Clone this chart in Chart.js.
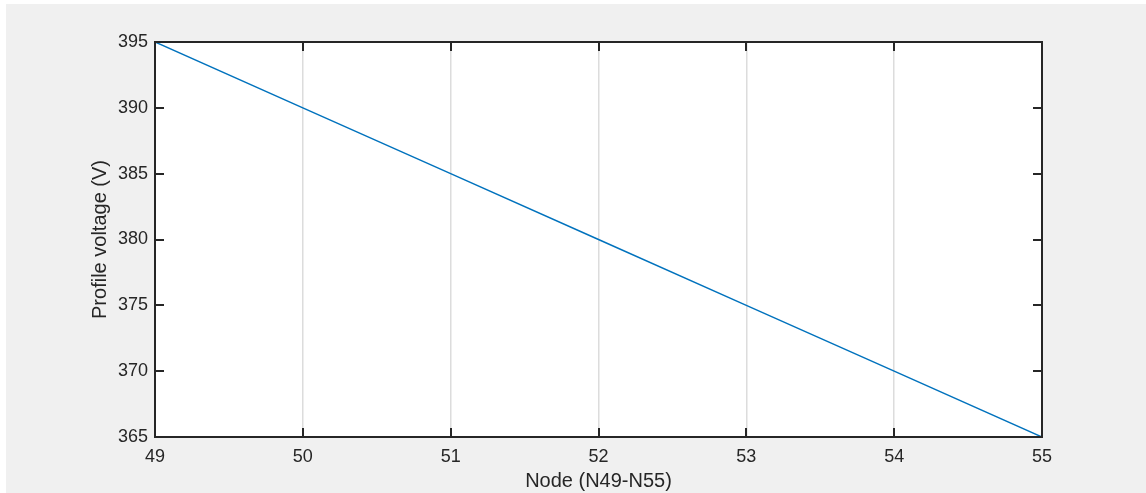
<!DOCTYPE html>
<html>
<head>
<meta charset="utf-8">
<script src="https://cdn.jsdelivr.net/npm/chart.js@4/dist/chart.umd.min.js"></script>
<style>
  html, body { margin: 0; padding: 0; background: #ffffff; }
  #wrap { width: 1146px; height: 493px; position: relative; }
</style>
</head>
<body>
<div id="wrap"><canvas id="c" width="1146" height="493"></canvas></div>
<script>
// ---- data ----
const nodes = [49, 50, 51, 52, 53, 54, 55];
const voltages = [395, 390, 385, 380, 375, 370, 365];
const xTicks = [49, 50, 51, 52, 53, 54, 55];
const yTicks = [365, 370, 375, 380, 385, 390, 395];
const xTitle = 'Node (N49-N55)';
const yTitle = 'Profile voltage (V)';

const FONT = '"Liberation Sans", Arial, Helvetica, sans-serif';
const AXIS_COLOR = '#262626';

const matlabFrame = {
  id: 'matlabFrame',
  beforeDraw(chart) {
    const ctx = chart.ctx, a = chart.chartArea;
    ctx.save();
    ctx.fillStyle = '#f0f0f0';
    ctx.fillRect(6, 4, chart.width - 6, chart.height - 4);
    ctx.fillStyle = '#ffffff';
    ctx.fillRect(a.left, a.top, a.right - a.left, a.bottom - a.top);
    ctx.restore();
  },
  afterDatasetsDraw(chart) {
    const ctx = chart.ctx, a = chart.chartArea;
    const xs = chart.scales.x, ys = chart.scales.y;
    const tl = 9;
    ctx.save();
    ctx.strokeStyle = AXIS_COLOR;
    ctx.lineWidth = 2;
    ctx.beginPath();
    xTicks.forEach(v => {
      const px = Math.round(xs.getPixelForValue(v));
      ctx.moveTo(px, a.bottom); ctx.lineTo(px, a.bottom - tl);
      ctx.moveTo(px, a.top); ctx.lineTo(px, a.top + tl);
    });
    yTicks.forEach(v => {
      const py = Math.round(ys.getPixelForValue(v));
      ctx.moveTo(a.left, py); ctx.lineTo(a.left + tl, py);
      ctx.moveTo(a.right, py); ctx.lineTo(a.right - tl, py);
    });
    ctx.stroke();
    ctx.strokeRect(a.left, a.top, a.right - a.left, a.bottom - a.top);
    ctx.restore();
  }
};

new Chart(document.getElementById('c'), {
  type: 'line',
  data: {
    datasets: [{
      data: nodes.map((n, i) => ({ x: n, y: voltages[i] })),
      borderColor: '#0072BD',
      borderWidth: 1.5,
      pointRadius: 0,
      fill: false,
      tension: 0
    }]
  },
  options: {
    responsive: false,
    animation: false,
    events: [],
    layout: { padding: { left: 0, top: 42, right: 104, bottom: 0 } },
    plugins: { legend: { display: false }, tooltip: { enabled: false } },
    scales: {
      x: {
        type: 'linear',
        min: 49, max: 55,
        afterBuildTicks: s => { s.ticks = xTicks.map(v => ({ value: v })); },
        afterFit: s => { s.height = 56; },
        ticks: { font: { family: FONT, size: 18 }, color: AXIS_COLOR, padding: 9, maxRotation: 0 },
        grid: { display: true, color: '#dcdcdc', lineWidth: 1.5, drawTicks: false },
        border: { display: false },
        title: { display: true, text: xTitle, font: { family: FONT, size: 20 }, color: AXIS_COLOR, padding: { top: 0, bottom: 0 } }
      },
      y: {
        type: 'linear',
        min: 365, max: 395,
        afterBuildTicks: s => { s.ticks = yTicks.map(v => ({ value: v })); },
        afterFit: s => { s.width = 155; },
        ticks: { font: { family: FONT, size: 18 }, color: AXIS_COLOR, padding: 7 },
        grid: { display: false, drawTicks: false },
        border: { display: false },
        title: { display: true, text: yTitle, font: { family: FONT, size: 20 }, color: AXIS_COLOR, padding: { top: 88, bottom: 0 } }
      }
    }
  },
  plugins: [matlabFrame]
});
</script>
</body>
</html>
